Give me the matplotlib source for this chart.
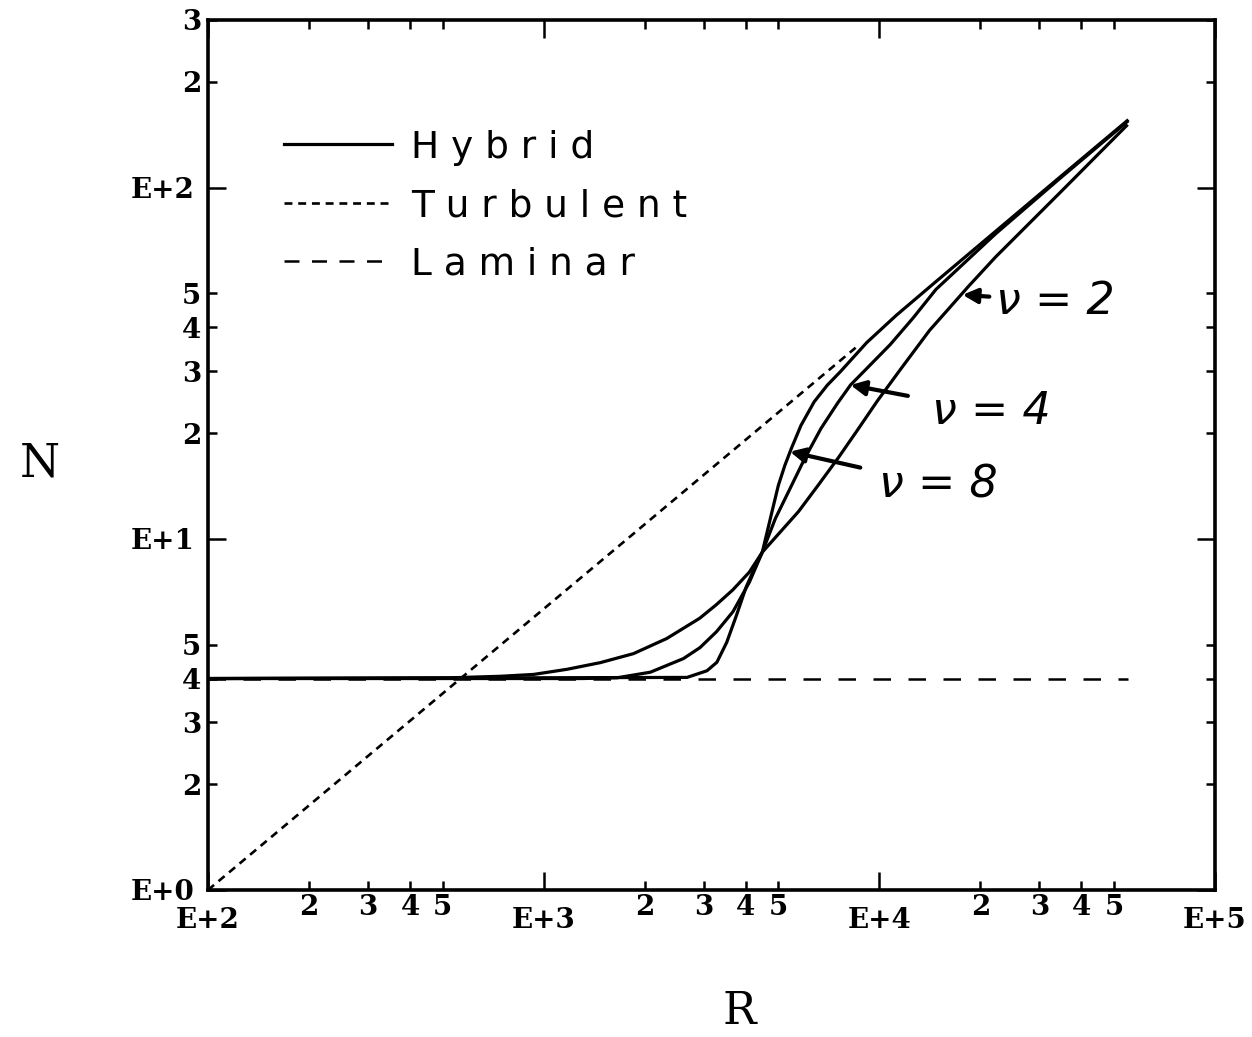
import matplotlib
matplotlib.use("Agg")
import matplotlib.pyplot as plt
from matplotlib.lines import Line2D

# ---------------- data ----------------
R_turb = [100, 8500]
N_turb = [1.0, 35.0]

R_lam = [100, 55000]
N_lam = [4.0, 4.0]

R_nu2 = [100, 528, 744, 934, 1174, 1475, 1852, 2326, 2917, 3268, 3658, 4097,
         4481, 5746, 6578, 7531, 8619, 9862, 11550, 14110, 18490, 22220,
         35010, 54500]
N_nu2 = [4.0, 4.02, 4.06, 4.11, 4.25, 4.44, 4.71, 5.20, 5.94, 6.49, 7.15, 8.03,
         9.16, 11.96, 14.22, 16.96, 20.43, 24.68, 30.33, 39.2, 52.5, 63.5,
         98.0, 150.0]

R_nu4 = [100, 1300, 1655, 2079, 2609, 2923, 3274, 3664, 4100, 4481, 4899,
         5358, 5994, 6701, 7502, 8207, 9398, 10766, 12614, 14750, 22180,
         34960, 54740]
N_nu4 = [4.0, 4.0, 4.02, 4.17, 4.56, 4.90, 5.44, 6.20, 7.52, 9.16, 11.41,
         13.59, 16.93, 20.61, 24.30, 27.41, 31.27, 35.69, 42.56, 51.3, 73.8,
         107.3, 154.0]

R_nu8 = [100, 2674, 3066, 3281, 3510, 3752, 4009, 4286, 4481, 4786, 5002,
         5230, 5465, 5842, 6394, 6997, 7655, 9173, 11240, 14750, 22180,
         34960, 54740]
N_nu8 = [4.0, 4.03, 4.21, 4.45, 5.07, 6.05, 7.28, 8.40, 9.16, 11.92, 14.19,
         16.18, 18.05, 21.03, 24.54, 27.37, 29.91, 36.2, 43.3, 54.0, 75.0,
         108.2, 155.0]

x_major = [1e2, 1e3, 1e4, 1e5]
x_major_labels = ["E+2", "E+3", "E+4", "E+5"]
x_minor = [2e2, 3e2, 4e2, 5e2, 2e3, 3e3, 4e3, 5e3, 2e4, 3e4, 4e4, 5e4]
x_minor_labels = ["2", "3", "4", "5"] * 3

y_major = [1, 10, 100]
y_major_labels = ["E+0", "E+1", "E+2"]
y_minor = [2, 3, 4, 5, 20, 30, 40, 50, 200, 300]
y_minor_labels = ["2", "3", "4", "5", "2", "3", "4", "5", "2", "3"]

legend_labels = ["H y b r i d", "T u r b u l e n t", "L a m i n a r"]

# annotation anchor points (on the curves) and text positions
ann_text = ["\u03bd = 2", "\u03bd = 4", "\u03bd = 8"]
ann_xy = [(17700, 49.5), (8207, 27.4), (5417, 17.7)]
ann_xytext = [(22300, 47.5), (14400, 23.0), (10000, 14.2)]
ann_shrink = [3, 16, 12]

# ---------------- figure ----------------
fig = plt.figure(figsize=(12.52, 10.37), dpi=100)
ax = fig.add_axes([208 / 1252, 1 - 890 / 1037, (1215 - 208) / 1252, (890 - 20) / 1037])
ax.set_xscale("log")
ax.set_yscale("log")
ax.set_xlim(1e2, 1e5)
ax.set_ylim(1, 300)

ax.plot(R_lam, N_lam, color="black", lw=1.8, dashes=(7, 7))
ax.plot(R_turb, N_turb, color="black", lw=1.9, dashes=(3, 2.2))
ax.plot(R_nu2, N_nu2, color="black", lw=2.3, solid_joinstyle="round")
ax.plot(R_nu4, N_nu4, color="black", lw=2.3, solid_joinstyle="round")
ax.plot(R_nu8, N_nu8, color="black", lw=2.3, solid_joinstyle="round")

for s in ax.spines.values():
    s.set_linewidth(2.6)

tick_font = dict(family="DejaVu Serif", weight="bold", size=20)

ax.set_xticks(x_major)
ax.set_xticklabels(x_major_labels, fontdict=tick_font)
ax.set_xticks(x_minor, minor=True)
ax.set_xticklabels(x_minor_labels, minor=True, fontdict=tick_font)
ax.set_yticks(y_major)
ax.set_yticklabels(y_major_labels, fontdict=tick_font)
ax.set_yticks(y_minor, minor=True)
ax.set_yticklabels(y_minor_labels, minor=True, fontdict=tick_font)

ax.tick_params(which="both", direction="in", top=True, right=True, width=1.8)
ax.tick_params(which="major", length=13)
ax.tick_params(which="minor", length=6.5)
ax.tick_params(axis="x", which="major", pad=12)
ax.tick_params(axis="x", which="minor", pad=3)
ax.tick_params(axis="y", which="major", pad=10)
ax.tick_params(axis="y", which="minor", pad=5)

ax.set_xlabel("R", family="DejaVu Serif", fontsize=32, va="center", ha="center")
ax.xaxis.set_label_coords(0.528, -0.139)
ax.set_ylabel("N", family="DejaVu Serif", fontsize=33, rotation=0, va="center", ha="center")
ax.yaxis.set_label_coords(-0.167, 0.49)

# legend proxy handles (line styles as drawn in the reference key)
hyb_h = Line2D([], [], color="black", lw=2.3)
turb_h = Line2D([], [], color="black", lw=1.9, dashes=(3, 2.2))
lam_h = Line2D([], [], color="black", lw=1.8, dashes=(6, 5))
leg = ax.legend(handles=[hyb_h, turb_h, lam_h], labels=legend_labels,
                loc="upper left", bbox_to_anchor=(0.075, 0.874),
                frameon=False, handlelength=2.9, handletextpad=0.5, labelspacing=0.6,
                borderpad=0, borderaxespad=0,
                prop=dict(family="DejaVu Sans", size=27))

for t, xy, xyt, sh in zip(ann_text, ann_xy, ann_xytext, ann_shrink):
    ax.annotate(t, xy=xy, xytext=xyt, textcoords="data", fontsize=32,
                family="DejaVu Sans", style="italic", va="center", ha="left",
                arrowprops=dict(arrowstyle="-|>", color="black", lw=3,
                                mutation_scale=22, shrinkA=sh, shrinkB=0))

fig.savefig("out.png", dpi=100)
